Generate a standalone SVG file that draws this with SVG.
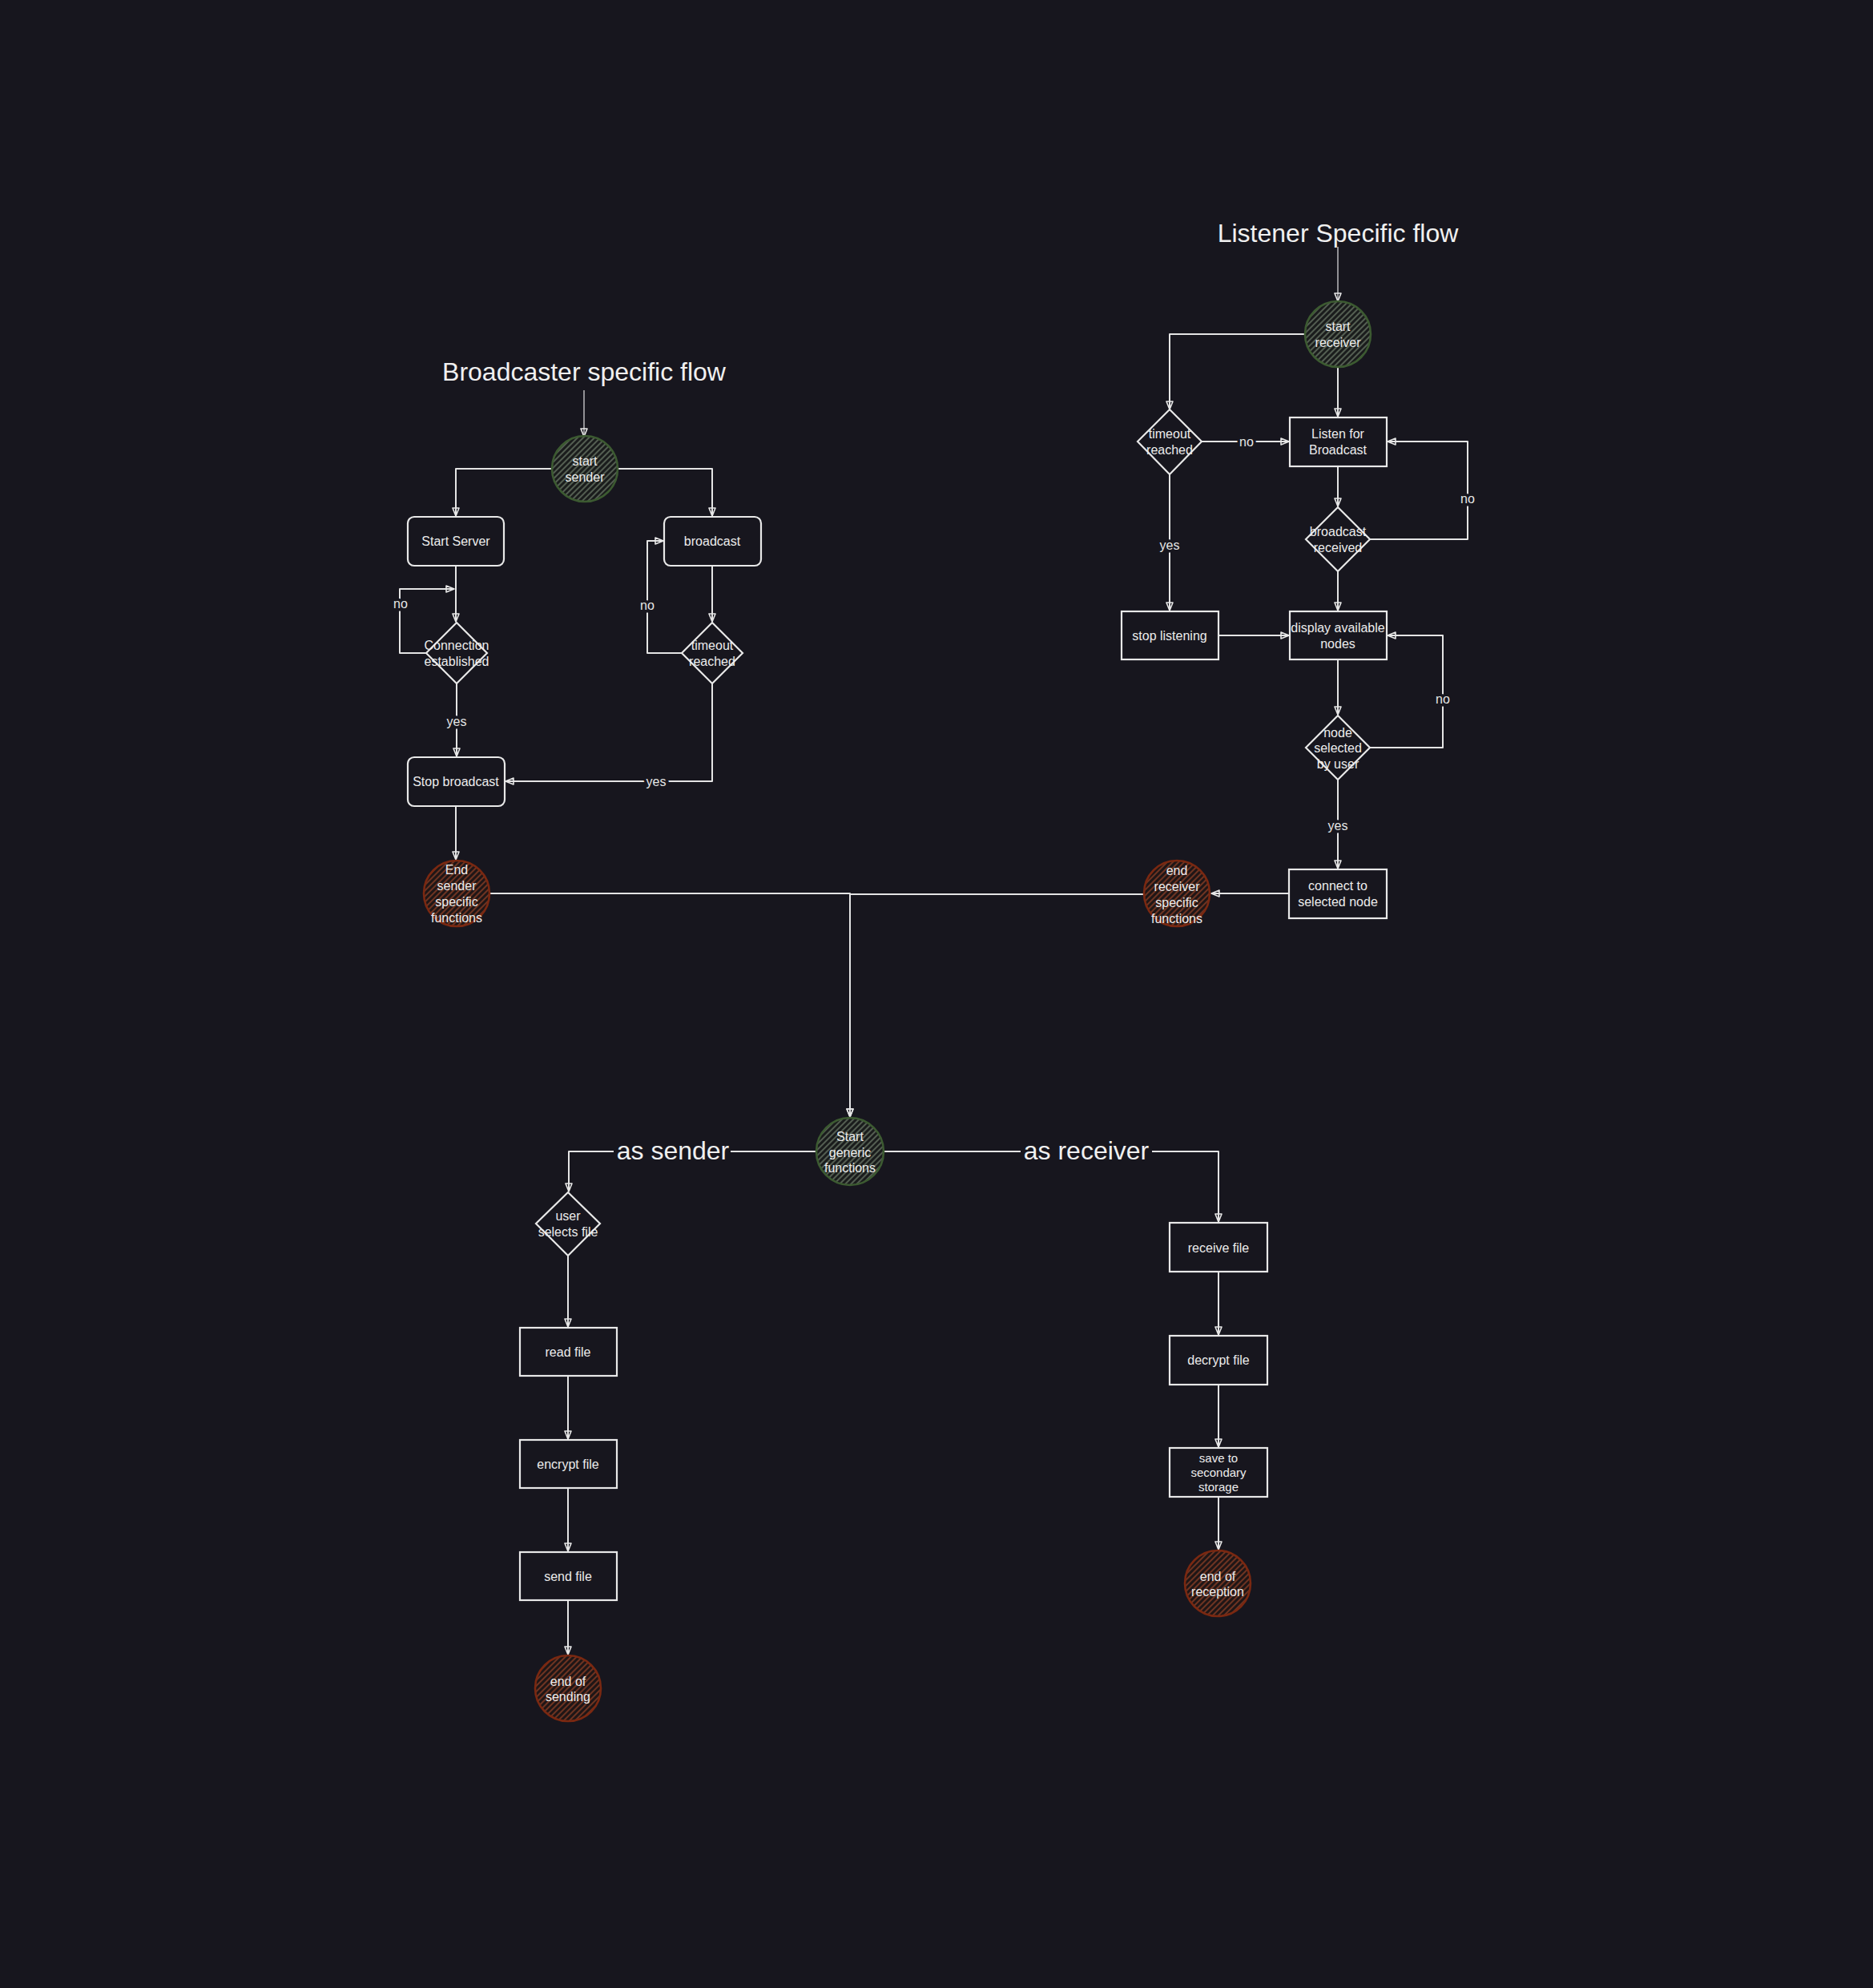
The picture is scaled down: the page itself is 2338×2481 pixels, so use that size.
<svg xmlns="http://www.w3.org/2000/svg" width="2338" height="2481" viewBox="0 0 2338 2481">
<defs>
<style>
.bg{fill:#17161e}
.ln{fill:none;stroke:#e4e4e4;stroke-width:2;stroke-linejoin:round}
.thin{fill:none;stroke:#e4e4e4;stroke-width:1.2}
.box{fill:#17161e;stroke:#e8e8e8;stroke-width:2.2}
.t{font-family:"Liberation Sans",Arial,sans-serif;font-size:16px;fill:#ececec;text-anchor:middle;dominant-baseline:central}
.title{font-family:"Liberation Sans",Arial,sans-serif;font-size:32px;fill:#f0f0f0;text-anchor:middle}
.lbl{font-family:"Liberation Sans",Arial,sans-serif;font-size:16px;fill:#e6e6e6;text-anchor:middle;dominant-baseline:central;stroke:#17161e;stroke-width:7;paint-order:stroke}
.big{font-family:"Liberation Sans",Arial,sans-serif;font-size:32px;fill:#f0f0f0;text-anchor:middle;dominant-baseline:central}
.gc{fill:url(#hg);stroke:#3c5a31;stroke-width:2.6}
.rc{fill:url(#hr);stroke:#7a2811;stroke-width:2.6}
</style>
<pattern id="hg" patternUnits="userSpaceOnUse" width="5" height="5" patternTransform="rotate(45)">
<rect width="5" height="5" fill="#1a1c1c"/>
<line x1="1" y1="0" x2="1" y2="5" stroke="#84957e" stroke-width="1.1"/>
</pattern>
<pattern id="hr" patternUnits="userSpaceOnUse" width="5" height="5" patternTransform="rotate(45)">
<rect width="5" height="5" fill="#1f1616"/>
<line x1="1" y1="0" x2="1" y2="5" stroke="#a4482a" stroke-width="1.2"/>
</pattern>
<marker id="arr" viewBox="0 0 12 10" refX="11" refY="5" markerWidth="12" markerHeight="10" markerUnits="userSpaceOnUse" orient="auto">
<path d="M1,1 L11,5 L1,9 Z" fill="none" stroke="#e8e8e8" stroke-width="1.6" stroke-linejoin="round"/>
</marker>
</defs>
<rect class="bg" x="0" y="0" width="2338" height="2481"/>

<g id="connectors">
<path class="thin" d="M729,487 V545" marker-end="url(#arr)"/>
<path class="ln" d="M689,585 H569 V644" marker-end="url(#arr)"/>
<path class="ln" d="M771,585 H889 V644" marker-end="url(#arr)"/>
<path class="ln" d="M569,706 V776" marker-end="url(#arr)"/>
<path class="ln" d="M532,815 H499 V735 H567" marker-end="url(#arr)"/>
<path class="ln" d="M570,853 V944" marker-end="url(#arr)"/>
<path class="ln" d="M889,706 V776" marker-end="url(#arr)"/>
<path class="ln" d="M851,815 H808 V675 H828" marker-end="url(#arr)"/>
<path class="ln" d="M889,853 V975 H631" marker-end="url(#arr)"/>
<path class="ln" d="M569,1006 V1073" marker-end="url(#arr)"/>
<path class="ln" d="M611,1115 H1061 V1394" marker-end="url(#arr)"/>
<path class="ln" d="M1428,1116 H1061 V1394" marker-end="url(#arr)"/>
<path class="ln" d="M1019,1437 H710 V1487" marker-end="url(#arr)"/>
<path class="ln" d="M1103,1437 H1521 V1525" marker-end="url(#arr)"/>
<path class="ln" d="M709,1567 V1656" marker-end="url(#arr)"/>
<path class="ln" d="M709,1717 V1796" marker-end="url(#arr)"/>
<path class="ln" d="M709,1857 V1936" marker-end="url(#arr)"/>
<path class="ln" d="M709,1997 V2065" marker-end="url(#arr)"/>
<path class="ln" d="M1521,1587 V1666" marker-end="url(#arr)"/>
<path class="ln" d="M1521,1728 V1806" marker-end="url(#arr)"/>
<path class="ln" d="M1521,1868 V1934" marker-end="url(#arr)"/>
<path class="thin" d="M1670,308 V376" marker-end="url(#arr)"/>
<path class="ln" d="M1629,417 H1460 V511" marker-end="url(#arr)"/>
<path class="ln" d="M1670,458 V520" marker-end="url(#arr)"/>
<path class="ln" d="M1500,551 H1609" marker-end="url(#arr)"/>
<path class="ln" d="M1670,582 V632" marker-end="url(#arr)"/>
<path class="ln" d="M1710,673 H1832 V551 H1732" marker-end="url(#arr)"/>
<path class="ln" d="M1670,713 V762" marker-end="url(#arr)"/>
<path class="ln" d="M1460,592 V762" marker-end="url(#arr)"/>
<path class="ln" d="M1521,793 H1609" marker-end="url(#arr)"/>
<path class="ln" d="M1670,823 V892" marker-end="url(#arr)"/>
<path class="ln" d="M1710,933 H1801 V793 H1732" marker-end="url(#arr)"/>
<path class="ln" d="M1670,973 V1084" marker-end="url(#arr)"/>
<path class="ln" d="M1609,1115 H1512" marker-end="url(#arr)"/>
<text class="lbl" x="500" y="753">no</text>
<text class="lbl" x="570" y="900">yes</text>
<text class="lbl" x="808" y="755">no</text>
<text class="lbl" x="819" y="975">yes</text>
<rect class="bg" x="766" y="1420" width="146" height="34"/>
<text class="big" x="840" y="1436">as sender</text>
<rect class="bg" x="1274" y="1420" width="164" height="34"/>
<text class="big" x="1356" y="1436">as receiver</text>
<text class="lbl" x="1556" y="551">no</text>
<text class="lbl" x="1832" y="622">no</text>
<text class="lbl" x="1460" y="680">yes</text>
<text class="lbl" x="1801" y="872">no</text>
<text class="lbl" x="1670" y="1030">yes</text>
</g>

<g id="title-broadcaster"><text class="title" x="729" y="475">Broadcaster specific flow</text></g>
<g id="title-listener"><text class="title" x="1670" y="302">Listener Specific flow</text></g>

<g id="start-sender"><circle class="gc" cx="730" cy="585" r="41"/><text class="t" x="730"><tspan x="730" y="575">start</tspan><tspan x="730" y="595">sender</tspan></text></g>
<g id="start-server"><rect class="box" x="509" y="645" width="120" height="61" rx="8"/><text class="t" x="569" y="675">Start Server</text></g>
<g id="broadcast"><rect class="box" x="829" y="645" width="121" height="61" rx="8"/><text class="t" x="889" y="675">broadcast</text></g>
<g id="connection-established"><polygon class="box" points="570,777 608,815 570,853 532,815"/><text class="t"><tspan x="570" y="805">Connection</tspan><tspan x="570" y="825">established</tspan></text></g>
<g id="timeout-reached-b"><polygon class="box" points="889,777 927,815 889,853 851,815"/><text class="t"><tspan x="889" y="805">timeout</tspan><tspan x="889" y="825">reached</tspan></text></g>
<g id="stop-broadcast"><rect class="box" x="509" y="945" width="121" height="61" rx="8"/><text class="t" x="569" y="975">Stop broadcast</text></g>
<g id="end-sender-specific"><circle class="rc" cx="570" cy="1115" r="41"/><text class="t"><tspan x="570" y="1085">End</tspan><tspan x="570" y="1105">sender</tspan><tspan x="570" y="1125">specific</tspan><tspan x="570" y="1145">functions</tspan></text></g>

<g id="start-receiver"><circle class="gc" cx="1670" cy="417" r="41"/><text class="t"><tspan x="1670" y="407">start</tspan><tspan x="1670" y="427">receiver</tspan></text></g>
<g id="timeout-reached-l"><polygon class="box" points="1460,511 1500,551 1460,592 1420,551"/><text class="t"><tspan x="1460" y="541">timeout</tspan><tspan x="1460" y="561">reached</tspan></text></g>
<g id="listen-for-broadcast"><rect class="box" x="1610" y="521" width="121" height="61"/><text class="t"><tspan x="1670" y="541">Listen for</tspan><tspan x="1670" y="561">Broadcast</tspan></text></g>
<g id="broadcast-received"><polygon class="box" points="1670,633 1710,673 1670,713 1630,673"/><text class="t"><tspan x="1670" y="663">broadcast</tspan><tspan x="1670" y="683">received</tspan></text></g>
<g id="stop-listening"><rect class="box" x="1400" y="763" width="121" height="60"/><text class="t" x="1460" y="793">stop listening</text></g>
<g id="display-nodes"><rect class="box" x="1610" y="763" width="121" height="60"/><text class="t"><tspan x="1670" y="783">display available</tspan><tspan x="1670" y="803">nodes</tspan></text></g>
<g id="node-selected"><polygon class="box" points="1670,893 1710,933 1670,973 1630,933"/><text class="t"><tspan x="1670" y="914">node</tspan><tspan x="1670" y="933">selected</tspan><tspan x="1670" y="953">by user</tspan></text></g>
<g id="connect-node"><rect class="box" x="1609" y="1085" width="122" height="61"/><text class="t"><tspan x="1670" y="1105">connect to</tspan><tspan x="1670" y="1125">selected node</tspan></text></g>
<g id="end-receiver-specific"><circle class="rc" cx="1469" cy="1115" r="41"/><text class="t"><tspan x="1469" y="1086">end</tspan><tspan x="1469" y="1106">receiver</tspan><tspan x="1469" y="1126">specific</tspan><tspan x="1469" y="1146">functions</tspan></text></g>

<g id="start-generic"><circle class="gc" cx="1061" cy="1437" r="42"/><text class="t"><tspan x="1061" y="1418">Start</tspan><tspan x="1061" y="1438">generic</tspan><tspan x="1061" y="1457">functions</tspan></text></g>
<g id="user-selects-file"><polygon class="box" points="709,1488 749,1527 709,1567 669,1527"/><text class="t"><tspan x="709" y="1517">user</tspan><tspan x="709" y="1537">selects file</tspan></text></g>
<g id="read-file"><rect class="box" x="649" y="1657" width="121" height="60"/><text class="t" x="709" y="1687">read file</text></g>
<g id="encrypt-file"><rect class="box" x="649" y="1797" width="121" height="60"/><text class="t" x="709" y="1827">encrypt file</text></g>
<g id="send-file"><rect class="box" x="649" y="1937" width="121" height="60"/><text class="t" x="709" y="1967">send file</text></g>
<g id="end-of-sending"><circle class="rc" cx="709" cy="2107" r="41"/><text class="t"><tspan x="709" y="2098">end of</tspan><tspan x="709" y="2117">sending</tspan></text></g>
<g id="receive-file"><rect class="box" x="1460" y="1526" width="122" height="61"/><text class="t" x="1521" y="1557">receive file</text></g>
<g id="decrypt-file"><rect class="box" x="1460" y="1667" width="122" height="61"/><text class="t" x="1521" y="1697">decrypt file</text></g>
<g id="save-storage"><rect class="box" x="1460" y="1807" width="122" height="61"/><text class="t" style="font-size:15px"><tspan x="1521" y="1819">save to</tspan><tspan x="1521" y="1837">secondary</tspan><tspan x="1521" y="1855">storage</tspan></text></g>
<g id="end-of-reception"><circle class="rc" cx="1520" cy="1976" r="41"/><text class="t"><tspan x="1520" y="1967">end of</tspan><tspan x="1520" y="1986">reception</tspan></text></g>
</svg>
